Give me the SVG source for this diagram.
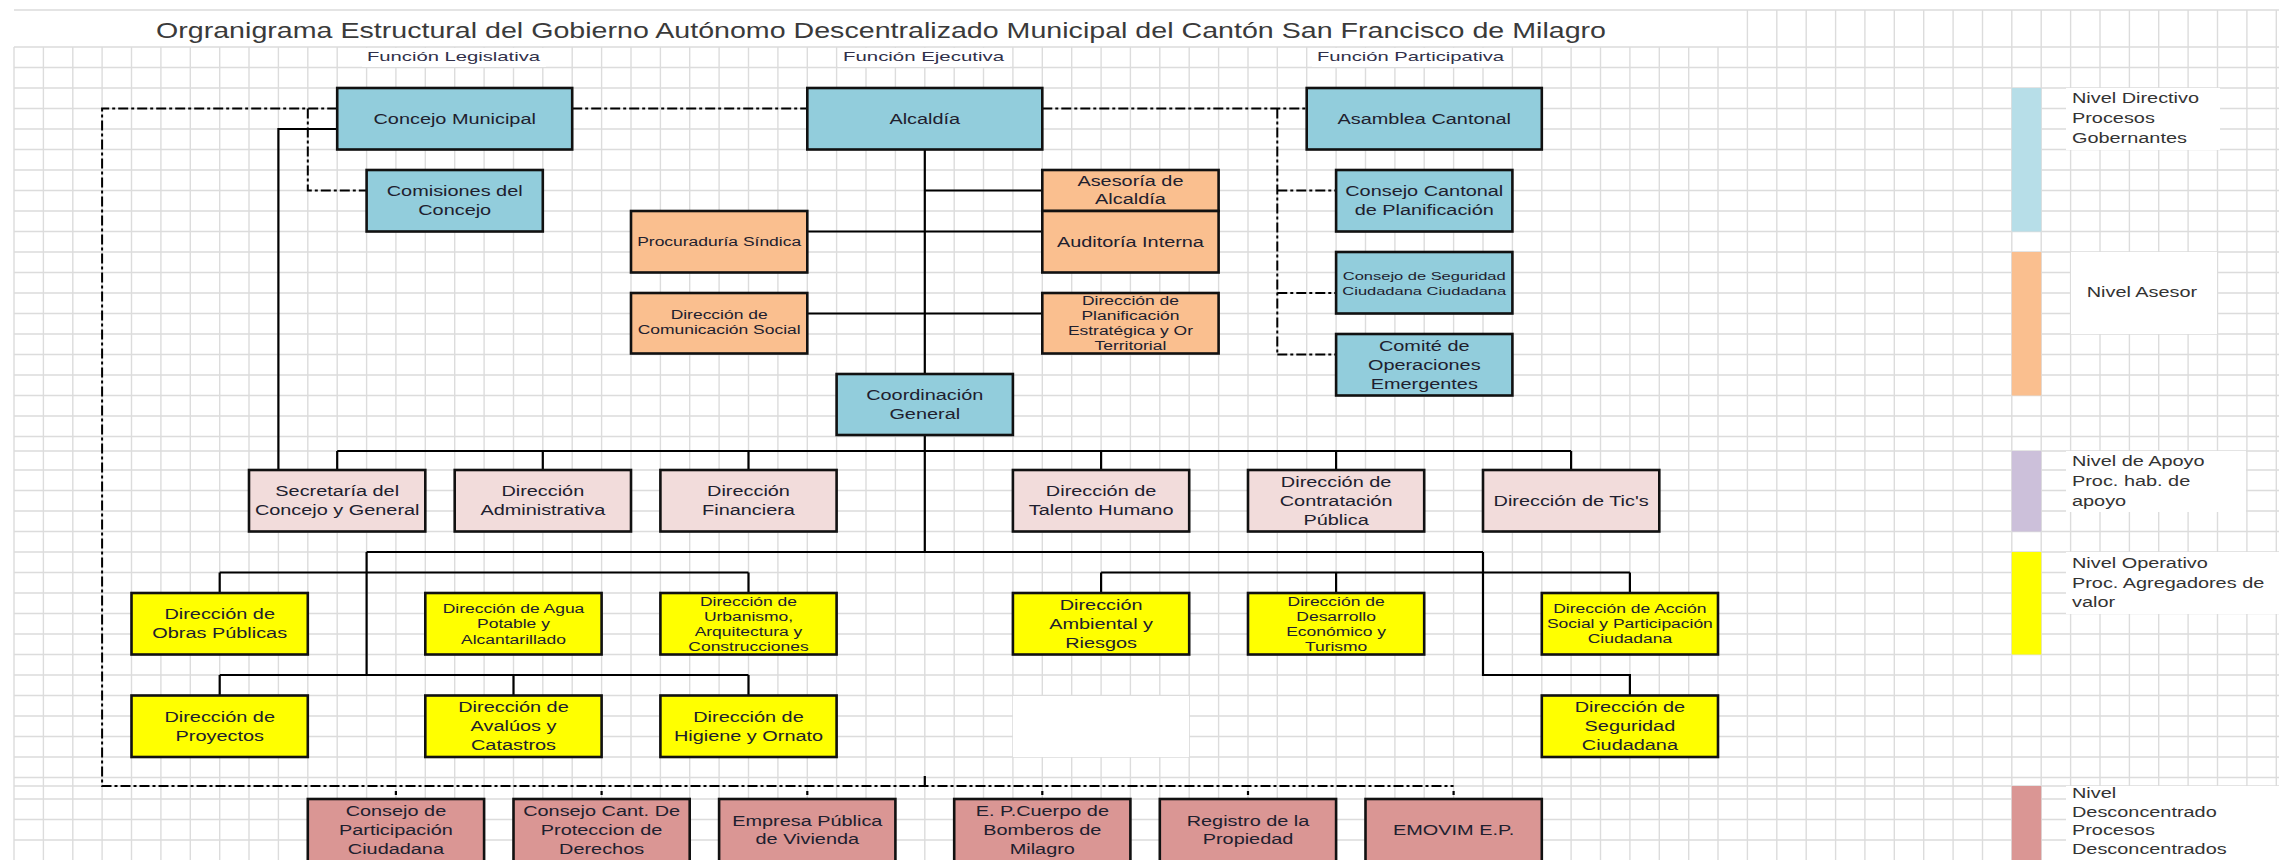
<svg xmlns="http://www.w3.org/2000/svg" width="2279" height="860" viewBox="0 0 2279 860">
<style>
.g{stroke:#dcdcdc;stroke-width:1.4;fill:none}
.b{stroke:#111;stroke-width:2.6}
.blue{fill:#92CDDC}.ora{fill:#FABF8F}.apo{fill:#F2DCDB}.yel{fill:#FFFF00}.des{fill:#DA9694}
.t{font-family:"Liberation Sans",Arial,sans-serif;font-size:14px;fill:#20202e;text-anchor:middle}
.s{font-size:12.3px}
.xs{font-size:11.6px}
.l{font-family:"Liberation Sans",Arial,sans-serif;font-size:14px;fill:#333}
.h{font-family:"Liberation Sans",Arial,sans-serif;font-size:13px;fill:#30304a}
.c{stroke:#000;stroke-width:2.2;fill:none}
.d{stroke:#000;stroke-width:2;fill:none;stroke-dasharray:10 3 3 3}
.w{fill:#fff}
</style>
<rect width="2279" height="860" fill="#fff"/>
<g id="grid">
<path class="g" d="M14 47V860M43.4 47V860M72.8 47V860M102.1 47V860M131.5 47V860M160.9 47V860M190.3 47V860M219.7 47V860M249 47V860M278.4 47V860M307.8 47V860M337.2 47V860M366.6 47V860M395.9 47V860M425.3 47V860M454.7 47V860M484.1 47V860M513.5 47V860M542.8 47V860M572.2 47V860M601.6 47V860M631 47V860M660.4 47V860M689.7 47V860M719.1 47V860M748.5 47V860M777.9 47V860M807.3 47V860M836.6 47V860M866 47V860M895.4 47V860M924.8 47V860M954.2 47V860M983.5 47V860M1012.9 47V860M1042.3 47V860M1071.7 47V860M1101.1 47V860M1130.4 47V860M1159.8 47V860M1189.2 47V860M1218.6 47V860M1248 47V860M1277.3 47V860M1306.7 47V860M1336.1 47V860M1365.5 47V860M1394.9 47V860M1424.2 47V860M1453.6 47V860M1483 47V860M1512.4 47V860M1541.8 47V860M1571.1 47V860M1600.5 47V860M1629.9 47V860M1659.3 47V860M1688.7 47V860M1718 47V860M1747.4 10V860M1776.8 10V860M1806.2 10V860M1835.6 10V860M1864.9 10V860M1894.3 10V860M1923.7 10V860M1953.1 10V860M1982.5 10V860M2011.8 10V860M2041.2 10V860M2070.6 10V860M2100 10V860M2129.4 10V860M2158.7 10V860M2188.1 10V860M2217.5 10V860M2246.9 10V860M2276.3 10V860"/>
<path class="g" d="M14 10H2279M14 47H2279M14 67.5H2279M14 88H2279M14 108.5H2279M14 129H2279M14 149.5H2279M14 170H2279M14 190.5H2279M14 211H2279M14 231.5H2279M14 252H2279M14 272.5H2279M14 293H2279M14 313.5H2279M14 334H2279M14 354.5H2279M14 375H2279M14 395.5H2279M14 416H2279M14 436.5H2279M14 451H2279M14 470H2279M14 490.5H2279M14 511H2279M14 531.5H2279M14 552H2279M14 572.5H2279M14 593H2279M14 613.5H2279M14 634H2279M14 654.5H2279M14 675H2279M14 695.5H2279M14 716H2279M14 736.5H2279M14 757H2279M14 777.5H2279M14 786H2279M14 799H2279M14 819.5H2279M14 840H2279"/>
<rect class="w" x="362" y="48" width="184" height="19"/>
<rect class="w" x="838" y="48" width="172" height="19"/>
<rect class="w" x="1312" y="48" width="198" height="19"/>
<rect class="w" x="1013" y="696" width="176" height="61"/>
<rect class="w" x="2066" y="88" width="154" height="62"/>
<rect class="w" x="2071" y="252" width="146" height="82"/>
<rect class="w" x="2066" y="451" width="180" height="61"/>
<rect class="w" x="2066" y="552" width="213" height="62"/>
<rect class="w" x="2066" y="786" width="213" height="74"/>
</g>
<text id="title" x="156" y="37.5" font-family="Liberation Sans, Arial, sans-serif" font-size="21.5" fill="#3a3a3a" textLength="1450" lengthAdjust="spacingAndGlyphs">Orgranigrama Estructural del Gobierno Autónomo Descentralizado Municipal del Cantón San Francisco de Milagro</text>
<g id="headers">
<text class="h" x="367" y="61" textLength="173" lengthAdjust="spacingAndGlyphs">Función Legislativa</text>
<text class="h" x="843" y="61" textLength="161" lengthAdjust="spacingAndGlyphs">Función Ejecutiva</text>
<text class="h" x="1317" y="61" textLength="187" lengthAdjust="spacingAndGlyphs">Función Participativa</text>
</g>
<g id="connectors">
<path class="c" d="M924.8 149.5V375M924.8 190.5H1042.3M807.3 231.5H1042.3M807.3 313.5H1042.3M924.8 435V552M337.2 129H278.4V470M337.2 451H1571.1M337.2 451V470M542.8 451V470M748.5 451V470M1101.1 451V470M1336.1 451V470M1571.1 451V470M366.6 552H1483M366.6 552V675M219.7 572.5H748.5M219.7 572.5V593M748.5 572.5V593M219.7 675H748.5M219.7 675V695.5M513.5 675V695.5M748.5 675V695.5M1101.1 572.5H1629.9M1101.1 572.5V593M1336.1 572.5V593M1629.9 572.5V593M1483 552V675H1629.9V695.5"/>
<path class="c" stroke-width="1.6" d="M924.8 776V786"/>
<path class="d" d="M337.2 108.5H102.1V786H1453.6M572.2 108.5H807.3M1042.3 108.5H1306.7M307.8 108.5V190.5H366.6M1277.3 108.5V354.5M1277.3 190.5H1336.1M1277.3 293H1336.1M1277.3 354.5H1336.1"/>
<path class="c" stroke-width="2" d="M395.9 791V795M601.6 791V795M807.3 791V795M1042.3 791V795M1248 791V795M1453.6 791V795"/>
</g>
<g id="n-concejo"><rect class="b blue" x="337.2" y="88" width="235" height="61.5"/><text class="t" transform="matrix(1.42 0 0 1 454.7 118.75)"><tspan x="0" y="5">Concejo Municipal</tspan></text></g>
<g id="n-alcaldia"><rect class="b blue" x="807.3" y="88" width="235" height="61.5"/><text class="t" transform="matrix(1.42 0 0 1 924.8 118.75)"><tspan x="0" y="5">Alcaldía</tspan></text></g>
<g id="n-asamblea"><rect class="b blue" x="1306.7" y="88" width="235.1" height="61.5"/><text class="t" transform="matrix(1.42 0 0 1 1424.25 118.75)"><tspan x="0" y="5">Asamblea Cantonal</tspan></text></g>
<g id="n-comisiones"><rect class="b blue" x="366.6" y="170" width="176.2" height="61.5"/><text class="t" transform="matrix(1.42 0 0 1 454.7 200.75)"><tspan x="0" y="-4.5">Comisiones del</tspan><tspan x="0" y="14.5">Concejo</tspan></text></g>
<g id="n-consejo-planif"><rect class="b blue" x="1336.1" y="170" width="176.3" height="61.5"/><text class="t" transform="matrix(1.42 0 0 1 1424.25 200.75)"><tspan x="0" y="-4.5">Consejo Cantonal</tspan><tspan x="0" y="14.5">de Planificación</tspan></text></g>
<g id="n-consejo-seg"><rect class="b blue" x="1336.1" y="252" width="176.3" height="61.5"/><text class="t xs" transform="matrix(1.42 0 0 1 1424.25 282.75)"><tspan x="0" y="-3">Consejo de Seguridad</tspan><tspan x="0" y="12">Ciudadana Ciudadana</tspan></text></g>
<g id="n-comite"><rect class="b blue" x="1336.1" y="334" width="176.3" height="61.5"/><text class="t" transform="matrix(1.42 0 0 1 1424.25 364.75)"><tspan x="0" y="-14">Comité de</tspan><tspan x="0" y="5">Operaciones</tspan><tspan x="0" y="24">Emergentes</tspan></text></g>
<g id="n-coordinacion"><rect class="b blue" x="836.6" y="374" width="176.3" height="61"/><text class="t" transform="matrix(1.42 0 0 1 924.75 404.5)"><tspan x="0" y="-4.5">Coordinación</tspan><tspan x="0" y="14.5">General</tspan></text></g>
<g id="n-asesoria"><rect class="b ora" x="1042.3" y="170" width="176.3" height="41"/><text class="t" transform="matrix(1.42 0 0 1 1130.45 190.5)"><tspan x="0" y="-5">Asesoría de</tspan><tspan x="0" y="13.5">Alcaldía</tspan></text></g>
<g id="n-auditoria"><rect class="b ora" x="1042.3" y="211" width="176.3" height="61.5"/><text class="t" transform="matrix(1.42 0 0 1 1130.45 241.75)"><tspan x="0" y="5">Auditoría Interna</tspan></text></g>
<g id="n-procuraduria"><rect class="b ora" x="631" y="211" width="176.3" height="61.5"/><text class="t s" transform="matrix(1.42 0 0 1 719.15 241.75)"><tspan x="0" y="4.5">Procuraduría Síndica</tspan></text></g>
<g id="n-comunicacion"><rect class="b ora" x="631" y="293" width="176.3" height="60.5"/><text class="t s" transform="matrix(1.42 0 0 1 719.15 323.25)"><tspan x="0" y="-4">Dirección de</tspan><tspan x="0" y="11">Comunicación Social</tspan></text></g>
<g id="n-planificacion"><rect class="b ora" x="1042.3" y="293" width="176.3" height="60.5"/><text class="t s" transform="matrix(1.42 0 0 1 1130.45 323.25)"><tspan x="0" y="-18">Dirección de</tspan><tspan x="0" y="-3">Planificación</tspan><tspan x="0" y="12">Estratégica y Or</tspan><tspan x="0" y="27">Territorial</tspan></text></g>
<g id="n-secretaria"><rect class="b apo" x="249" y="470" width="176.3" height="61.5"/><text class="t" transform="matrix(1.42 0 0 1 337.2 500.75)"><tspan x="0" y="-4.5">Secretaría del</tspan><tspan x="0" y="14.5">Concejo y General</tspan></text></g>
<g id="n-administrativa"><rect class="b apo" x="454.7" y="470" width="176.3" height="61.5"/><text class="t" transform="matrix(1.42 0 0 1 542.8 500.75)"><tspan x="0" y="-4.5">Dirección</tspan><tspan x="0" y="14.5">Administrativa</tspan></text></g>
<g id="n-financiera"><rect class="b apo" x="660.4" y="470" width="176.2" height="61.5"/><text class="t" transform="matrix(1.42 0 0 1 748.5 500.75)"><tspan x="0" y="-4.5">Dirección</tspan><tspan x="0" y="14.5">Financiera</tspan></text></g>
<g id="n-talento"><rect class="b apo" x="1012.9" y="470" width="176.3" height="61.5"/><text class="t" transform="matrix(1.42 0 0 1 1101.1 500.75)"><tspan x="0" y="-4.5">Dirección de</tspan><tspan x="0" y="14.5">Talento Humano</tspan></text></g>
<g id="n-contratacion"><rect class="b apo" x="1248" y="470" width="176.2" height="61.5"/><text class="t" transform="matrix(1.42 0 0 1 1336.1 500.75)"><tspan x="0" y="-14">Dirección de</tspan><tspan x="0" y="5">Contratación</tspan><tspan x="0" y="24">Pública</tspan></text></g>
<g id="n-tics"><rect class="b apo" x="1483" y="470" width="176.3" height="61.5"/><text class="t" transform="matrix(1.42 0 0 1 1571.1 500.75)"><tspan x="0" y="5">Dirección  de Tic's</tspan></text></g>
<g id="n-obras"><rect class="b yel" x="131.5" y="593" width="176.3" height="61.5"/><text class="t" transform="matrix(1.42 0 0 1 219.7 623.75)"><tspan x="0" y="-4.5">Dirección de</tspan><tspan x="0" y="14.5">Obras Públicas</tspan></text></g>
<g id="n-agua"><rect class="b yel" x="425.3" y="593" width="176.3" height="61.5"/><text class="t s" transform="matrix(1.42 0 0 1 513.5 623.75)"><tspan x="0" y="-11">Dirección de Agua</tspan><tspan x="0" y="4.5">Potable y</tspan><tspan x="0" y="20">Alcantarillado</tspan></text></g>
<g id="n-urbanismo"><rect class="b yel" x="660.4" y="593" width="176.2" height="61.5"/><text class="t s" transform="matrix(1.42 0 0 1 748.5 623.75)"><tspan x="0" y="-18">Dirección de</tspan><tspan x="0" y="-3">Urbanismo,</tspan><tspan x="0" y="12">Arquitectura y</tspan><tspan x="0" y="27">Construcciones</tspan></text></g>
<g id="n-ambiental"><rect class="b yel" x="1012.9" y="593" width="176.3" height="61.5"/><text class="t" transform="matrix(1.42 0 0 1 1101.1 623.75)"><tspan x="0" y="-14">Dirección</tspan><tspan x="0" y="5">Ambiental y</tspan><tspan x="0" y="24">Riesgos</tspan></text></g>
<g id="n-desarrollo"><rect class="b yel" x="1248" y="593" width="176.2" height="61.5"/><text class="t s" transform="matrix(1.42 0 0 1 1336.1 623.75)"><tspan x="0" y="-18">Dirección de</tspan><tspan x="0" y="-3">Desarrollo</tspan><tspan x="0" y="12">Económico y</tspan><tspan x="0" y="27">Turismo</tspan></text></g>
<g id="n-accion"><rect class="b yel" x="1541.8" y="593" width="176.2" height="61.5"/><text class="t s" transform="matrix(1.42 0 0 1 1629.9 623.75)"><tspan x="0" y="-11">Dirección de Acción</tspan><tspan x="0" y="4.5">Social y Participación</tspan><tspan x="0" y="19">Ciudadana</tspan></text></g>
<g id="n-proyectos"><rect class="b yel" x="131.5" y="695.5" width="176.3" height="61.5"/><text class="t" transform="matrix(1.42 0 0 1 219.7 726.25)"><tspan x="0" y="-4.5">Dirección de</tspan><tspan x="0" y="14.5">Proyectos</tspan></text></g>
<g id="n-avaluos"><rect class="b yel" x="425.3" y="695.5" width="176.3" height="61.5"/><text class="t" transform="matrix(1.42 0 0 1 513.5 726.25)"><tspan x="0" y="-14">Dirección de</tspan><tspan x="0" y="5">Avalúos y</tspan><tspan x="0" y="24">Catastros</tspan></text></g>
<g id="n-higiene"><rect class="b yel" x="660.4" y="695.5" width="176.2" height="61.5"/><text class="t" transform="matrix(1.42 0 0 1 748.5 726.25)"><tspan x="0" y="-4.5">Dirección de</tspan><tspan x="0" y="14.5">Higiene y Ornato</tspan></text></g>
<g id="n-seguridad"><rect class="b yel" x="1541.8" y="695.5" width="176.2" height="61.5"/><text class="t" transform="matrix(1.42 0 0 1 1629.9 726.25)"><tspan x="0" y="-14">Dirección de</tspan><tspan x="0" y="5">Seguridad</tspan><tspan x="0" y="24">Ciudadana</tspan></text></g>
<g id="n-cpc"><rect class="b des" x="307.8" y="799" width="176.3" height="64"/><text class="t" transform="matrix(1.42 0 0 1 395.9 830)"><tspan x="0" y="-14">Consejo de</tspan><tspan x="0" y="5">Participación</tspan><tspan x="0" y="24">Ciudadana</tspan></text></g>
<g id="n-ccpd"><rect class="b des" x="513.5" y="799" width="176.2" height="64"/><text class="t" transform="matrix(1.42 0 0 1 601.6 830)"><tspan x="0" y="-14">Consejo Cant. De</tspan><tspan x="0" y="5">Proteccion de</tspan><tspan x="0" y="24">Derechos</tspan></text></g>
<g id="n-vivienda"><rect class="b des" x="719.1" y="799" width="176.3" height="64"/><text class="t" transform="matrix(1.42 0 0 1 807.3 830)"><tspan x="0" y="-4.5">Empresa Pública</tspan><tspan x="0" y="14.5">de Vivienda</tspan></text></g>
<g id="n-bomberos"><rect class="b des" x="954.2" y="799" width="176.2" height="64"/><text class="t" transform="matrix(1.42 0 0 1 1042.3 830)"><tspan x="0" y="-14">E. P.Cuerpo de</tspan><tspan x="0" y="5">Bomberos de</tspan><tspan x="0" y="24">Milagro</tspan></text></g>
<g id="n-registro"><rect class="b des" x="1159.8" y="799" width="176.3" height="64"/><text class="t" transform="matrix(1.42 0 0 1 1248 830)"><tspan x="0" y="-4.5">Registro de la</tspan><tspan x="0" y="14.5">Propiedad</tspan></text></g>
<g id="n-emovim"><rect class="b des" x="1365.5" y="799" width="176.3" height="64"/><text class="t" transform="matrix(1.42 0 0 1 1453.6 830)"><tspan x="0" y="5">EMOVIM E.P.</tspan></text></g>
<g id="legend">
<rect x="2011.8" y="88" width="29.4" height="143.5" fill="#B7DEE8"/>
<rect x="2011.8" y="252" width="29.4" height="143.5" fill="#FABF8F"/>
<rect x="2011.8" y="451" width="29.4" height="80.5" fill="#CCC0DA"/>
<rect x="2011.8" y="552" width="29.4" height="102.5" fill="#FFFF00"/>
<rect x="2011.8" y="786" width="29.4" height="74" fill="#DA9694"/>
<text class="l" transform="matrix(1.42 0 0 1 2072 0)"><tspan x="0" y="103">Nivel Directivo</tspan><tspan x="0" y="123">Procesos</tspan><tspan x="0" y="143">Gobernantes</tspan></text>
<text class="l" text-anchor="middle" transform="matrix(1.42 0 0 1 2142 0)"><tspan x="0" y="297">Nivel Asesor</tspan></text>
<text class="l" transform="matrix(1.42 0 0 1 2072 0)"><tspan x="0" y="466">Nivel de Apoyo</tspan><tspan x="0" y="486">Proc. hab. de</tspan><tspan x="0" y="506">apoyo</tspan></text>
<text class="l" transform="matrix(1.42 0 0 1 2072 0)"><tspan x="0" y="568">Nivel Operativo</tspan><tspan x="0" y="588">Proc. Agregadores de</tspan><tspan x="0" y="607">valor</tspan></text>
<text class="l" transform="matrix(1.42 0 0 1 2072 0)"><tspan x="0" y="798">Nivel</tspan><tspan x="0" y="817">Desconcentrado</tspan><tspan x="0" y="835">Procesos</tspan><tspan x="0" y="854">Desconcentrados</tspan></text>
</g>
</svg>
